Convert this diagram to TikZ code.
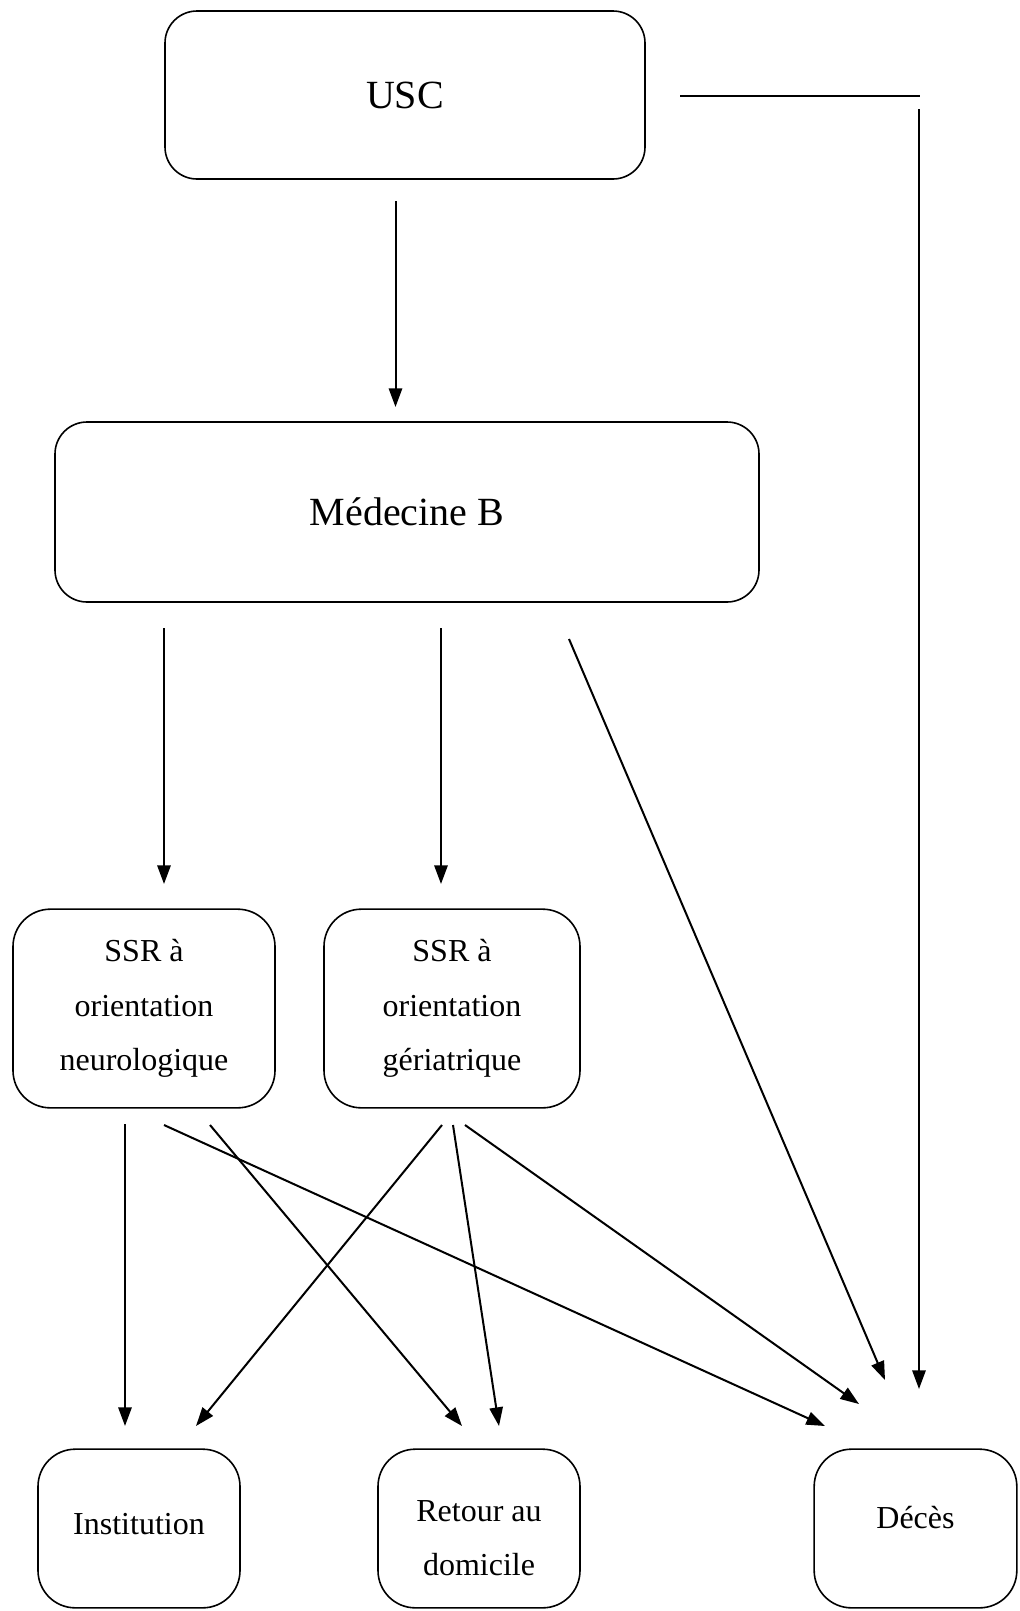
\documentclass[tikz,border=0pt]{standalone}
\usepackage{fontspec}
\setmainfont{Liberation Serif}
\usetikzlibrary{arrows.meta}
\begin{document}
\begin{tikzpicture}[x=0.75pt,y=-0.75pt,
  box/.style={draw, line width=1.2pt, rounded corners=24pt, align=center, inner sep=0pt},
  bigtxt/.style={font=\fontsize{30}{36}\selectfont},
  smalltxt/.style={font=\fontsize{24}{41}\selectfont},
  arr/.style={line width=1.5pt, -{Triangle[length=14pt,width=10pt]}},
  ln/.style={line width=1.5pt}]
\useasboundingbox (0,0) rectangle (1020,1611);
% nodes
\node[box,bigtxt,minimum width=360pt,minimum height=126pt] (usc) at (405,95) {USC};
\node[box,bigtxt,minimum width=528pt,minimum height=135pt] (med) at (407,512) {Médecine B};
\node[box,smalltxt,rounded corners=28pt,minimum width=196.5pt,minimum height=149pt] (neuro) at (144,1008.5) {SSR à\\orientation\\neurologique};
\node[box,smalltxt,rounded corners=28pt,minimum width=192pt,minimum height=149pt] (geri) at (452,1008.5) {SSR à\\orientation\\gériatrique};
\node[box,smalltxt,rounded corners=28pt,minimum width=151.5pt,minimum height=119pt] (inst) at (139,1528.5) {};
\node[smalltxt] (insttxt) at (139,1524) {Institution};
\node[box,smalltxt,rounded corners=28pt,minimum width=151.5pt,minimum height=119pt] (ret) at (479,1528.5) {};
\node[smalltxt,align=center] (rettxt) at (479,1538) {Retour au\\domicile};
\node[box,smalltxt,rounded corners=28pt,minimum width=152pt,minimum height=119pt] (dec) at (915.5,1528.5) {};
\node[smalltxt] (dectxt) at (915.5,1518) {Décès};
% connector end points
\coordinate (uscR1) at (680,96);
\coordinate (uscR2) at (920,96);
\coordinate (uscV) at (919,109);
\coordinate (uscVe) at (919,1389);
\coordinate (uscB) at (395.5,201);
\coordinate (medT) at (395.5,407);
\coordinate (med1) at (164,628);
\coordinate (med2) at (441,628);
\coordinate (med3) at (569,639);
\coordinate (neuroT) at (164,884);
\coordinate (geriT) at (441,884);
\coordinate (decA) at (885,1380);
\coordinate (n1) at (125,1124);
\coordinate (n2) at (164,1125);
\coordinate (n3) at (210,1125);
\coordinate (g1) at (442,1125);
\coordinate (g2) at (453,1125);
\coordinate (g3) at (465,1125);
\coordinate (instA) at (125,1426);
\coordinate (instB) at (196,1426);
\coordinate (retA) at (462,1426);
\coordinate (retB) at (499,1426);
\coordinate (decB) at (825,1426);
\coordinate (decC) at (859,1404);
% connectors
\draw[ln] (uscR1) -- (uscR2);
\draw[arr] (uscV) -- (uscVe);
\draw[arr] (uscB) -- (medT);
\draw[arr] (med1) -- (neuroT);
\draw[arr] (med2) -- (geriT);
\draw[arr] (med3) -- (decA);
\draw[arr] (n1) -- (instA);
\draw[arr] (n2) -- (decB);
\draw[arr] (n3) -- (retA);
\draw[arr] (g1) -- (instB);
\draw[arr] (g2) -- (retB);
\draw[arr] (g3) -- (decC);
\end{tikzpicture}
\end{document}
